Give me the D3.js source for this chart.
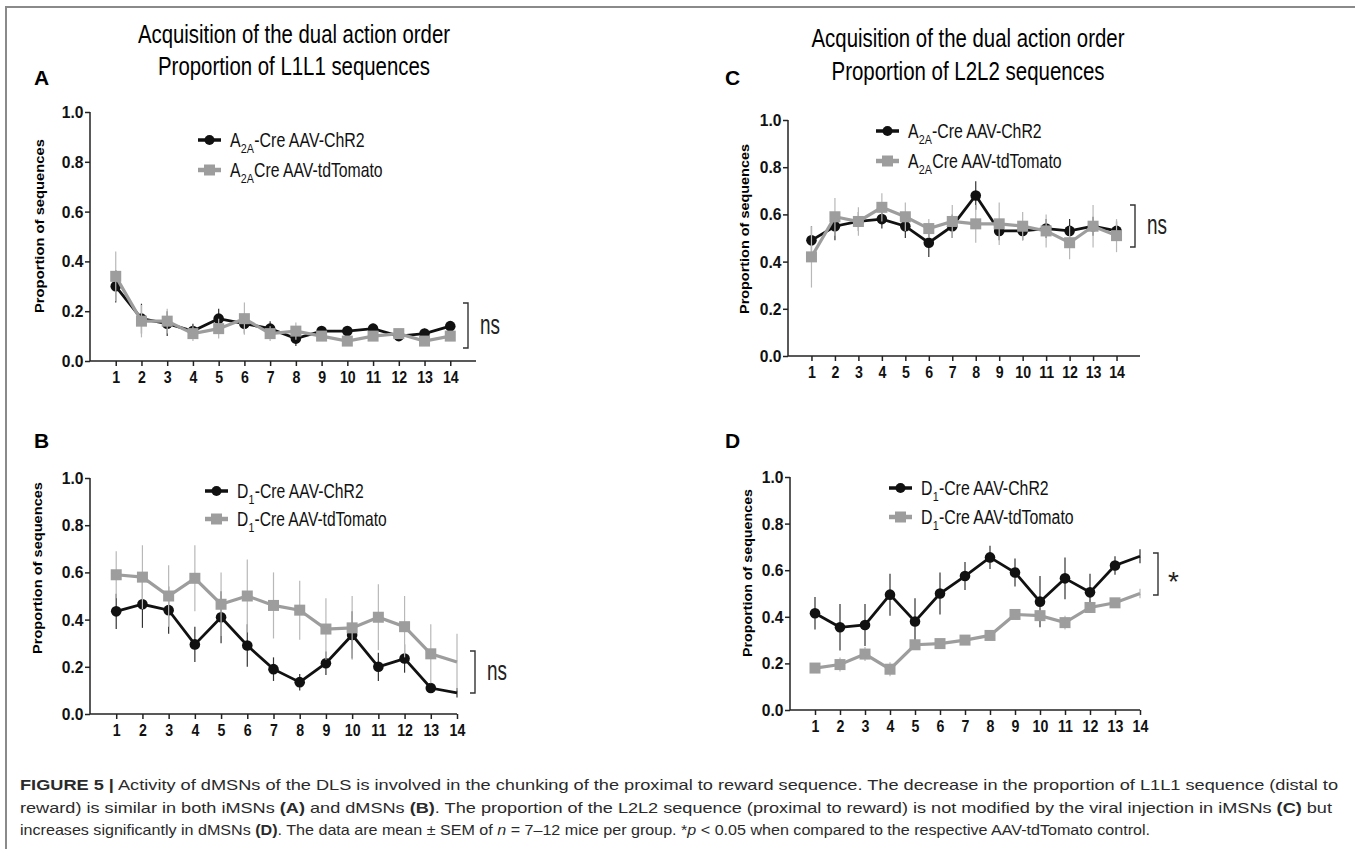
<!DOCTYPE html>
<html>
<head>
<meta charset="utf-8">
<script src="https://cdn.jsdelivr.net/npm/d3@7/dist/d3.min.js"></script>
<style>
  body { margin: 0; background: #fff; }
  text { font-family: 'Liberation Sans', Arial, sans-serif; }
</style>
</head>
<body>
<div id="chart"></div>
<script>

// sessions on the x axis
var days = [1, 2, 3, 4, 5, 6, 7, 8, 9, 10, 11, 12, 13, 14];
var yTicks = [0, 0.2, 0.4, 0.6, 0.8, 1.0];

// A: L1L1, A2A-Cre
var aChR2     = [0.30, 0.17, 0.15, 0.12, 0.17, 0.15, 0.13, 0.09, 0.12, 0.12, 0.13, 0.10, 0.11, 0.14];
var aChR2Sem  = [0.065, 0.06, 0.05, 0.03, 0.04, 0.04, 0.03, 0.03, 0.02, 0.02, 0.02, 0.02, 0.02, 0.02];
var aTdt      = [0.34, 0.16, 0.16, 0.11, 0.13, 0.17, 0.11, 0.12, 0.10, 0.08, 0.10, 0.11, 0.08, 0.10];
var aTdtSem   = [0.10, 0.065, 0.05, 0.03, 0.04, 0.065, 0.03, 0.035, 0.02, 0.02, 0.02, 0.02, 0.02, 0.02];

// B: L1L1, D1-Cre
var bChR2     = [0.435, 0.465, 0.44, 0.295, 0.41, 0.29, 0.19, 0.135, 0.215, 0.335, 0.20, 0.235, 0.11, 0.09];
var bChR2Sem  = [0.075, 0.10, 0.10, 0.075, 0.11, 0.09, 0.05, 0.035, 0.05, 0.10, 0.06, 0.06, 0.02, 0.02];
var bTdt      = [0.59, 0.58, 0.50, 0.575, 0.465, 0.50, 0.46, 0.44, 0.36, 0.365, 0.41, 0.37, 0.255, 0.22];
var bTdtSem   = [0.10, 0.135, 0.13, 0.14, 0.135, 0.155, 0.14, 0.125, 0.13, 0.135, 0.14, 0.13, 0.125, 0.12];

// C: L2L2, A2A-Cre
var cChR2     = [0.49, 0.55, 0.57, 0.58, 0.55, 0.48, 0.55, 0.68, 0.53, 0.53, 0.54, 0.53, 0.55, 0.53];
var cChR2Sem  = [0.06, 0.06, 0.04, 0.04, 0.05, 0.06, 0.05, 0.06, 0.04, 0.04, 0.04, 0.05, 0.04, 0.04];
var cTdt      = [0.42, 0.59, 0.57, 0.63, 0.59, 0.54, 0.57, 0.56, 0.56, 0.55, 0.53, 0.48, 0.55, 0.51];
var cTdtSem   = [0.13, 0.08, 0.06, 0.06, 0.06, 0.04, 0.07, 0.08, 0.09, 0.06, 0.07, 0.07, 0.09, 0.07];

// D: L2L2, D1-Cre
var dChR2     = [0.415, 0.355, 0.365, 0.495, 0.38, 0.50, 0.575, 0.655, 0.59, 0.465, 0.565, 0.505, 0.62, 0.66];
var dChR2Sem  = [0.07, 0.10, 0.09, 0.09, 0.10, 0.09, 0.06, 0.05, 0.06, 0.11, 0.09, 0.08, 0.04, 0.03];
var dTdt      = [0.18, 0.195, 0.24, 0.175, 0.28, 0.285, 0.30, 0.32, 0.41, 0.405, 0.375, 0.44, 0.46, 0.50];
var dTdtSem   = [0.02, 0.03, 0.03, 0.03, 0.02, 0.02, 0.02, 0.02, 0.02, 0.02, 0.03, 0.02, 0.02, 0.02];

var titleLine1 = 'Acquisition of the dual action order';
var yLabel = 'Proportion of  sequences';

var BLACK = '#111', GRAY = '#9d9d9d';

var svg = d3.select('#chart').append('svg')
    .attr('width', 1355)
    .attr('height', 849);

// frame around the figure
svg.append('path')
    .attr('d', 'M6,849 V7 H1355')
    .style('fill', 'none')
    .style('stroke', '#8a8a8a')
    .style('stroke-width', 2);

var panels = [
    { letter: 'A', lx: 34, ly: 85, x0: 90, x1: 476, xMax: 15, y0: 361, y1: 112,
      title: ['Proportion of L1L1 sequences'], tx: 294, ty: [43, 75], tw: [312, 272],
      labX: 44, labY: 226, labLen: 174,
      leg: { x: 198, y: [140, 170], len: [135, 153] }, sub: ['2A', '2A'], pre: 'A', names: ['-Cre AAV-ChR2', 'Cre AAV-tdTomato'],
      sig: 'ns', bx: 468, by: [303, 348], sigSize: 28, sigLen: 20,
      black: aChR2, blackSem: aChR2Sem, gray: aTdt, graySem: aTdtSem },
    { letter: 'B', lx: 34, ly: 448, x0: 90, x1: 457, xMax: 14, y0: 714, y1: 478,
      labX: 42, labY: 568, labLen: 172,
      leg: { x: 205, y: [491, 519], len: [127, 150] }, sub: ['1', '1'], pre: 'D', names: ['-Cre AAV-ChR2', '-Cre AAV-tdTomato'],
      sig: 'ns', bx: 475, by: [651, 693], sigSize: 28, sigLen: 20,
      black: bChR2, blackSem: bChR2Sem, gray: bTdt, graySem: bTdtSem },
    { letter: 'C', lx: 725, ly: 85, x0: 788, x1: 1140, xMax: 15, y0: 356, y1: 120,
      title: ['Proportion of L2L2 sequences'], tx: 968, ty: [47, 80], tw: [313, 273],
      labX: 749, labY: 229, labLen: 170,
      leg: { x: 876, y: [131, 161], len: [134, 154] }, sub: ['2A', '2A'], pre: 'A', names: ['-Cre AAV-ChR2', 'Cre AAV-tdTomato'],
      sig: 'ns', bx: 1135, by: [205, 247], sigSize: 28, sigLen: 20,
      black: cChR2, blackSem: cChR2Sem, gray: cTdt, graySem: cTdtSem },
    { letter: 'D', lx: 725, ly: 448, x0: 790, x1: 1140, xMax: 14, y0: 710, y1: 477,
      labX: 752, labY: 573, labLen: 168,
      leg: { x: 889, y: [488, 517], len: [128, 153] }, sub: ['1', '1'], pre: 'D', names: ['-Cre AAV-ChR2', '-Cre AAV-tdTomato'],
      sig: '*', bx: 1158, by: [553, 595], sigSize: 28, sigLen: 0,
      black: dChR2, blackSem: dChR2Sem, gray: dTdt, graySem: dTdtSem }
];

panels.forEach(drawPanel);

function drawPanel(p) {
    var x = d3.scaleLinear().domain([0, p.xMax]).range([p.x0, p.x1]);
    var y = d3.scaleLinear().domain([0, 1]).range([p.y0, p.y1]);

    // panel letter
    svg.append('text')
        .attr('x', p.lx).attr('y', p.ly)
        .style('font-size', '21px').style('font-weight', 'bold')
        .text(p.letter);

    // title (top panels only)
    if (p.title) {
        [titleLine1, p.title[0]].forEach((t, i) => {
            svg.append('text')
                .attr('x', p.tx).attr('y', p.ty[i])
                .attr('text-anchor', 'middle')
                .attr('textLength', p.tw[i])
                .attr('lengthAdjust', 'spacingAndGlyphs')
                .style('font-size', '26px')
                .text(t);
        });
    }

    // y axis
    svg.append('g')
        .attr('transform', `translate(${p.x0},0)`)
        .call(d3.axisLeft(y).tickValues(yTicks).tickFormat(d3.format('.1f')).tickSize(5).tickPadding(2))
        .call(g => g.select('.domain').attr('d', `M0,${p.y0}V${p.y1}`))
        .call(g => g.selectAll('path, line').style('stroke', '#222').style('stroke-width', 1.5))
        .call(g => g.selectAll('text').style('font-size', '17px').style('font-weight', 'bold')
            .style('font-family', "'Liberation Sans', Arial, sans-serif").attr('fill', '#111')
            .attr('transform', 'scale(0.92,1)'));

    // x axis
    svg.append('g')
        .attr('transform', `translate(0,${p.y0})`)
        .call(d3.axisBottom(x).tickValues(days).tickSize(5).tickPadding(5))
        .call(g => g.select('.domain').attr('d', `M${p.x0},0H${p.x1}`))
        .call(g => g.selectAll('path, line').style('stroke', '#222').style('stroke-width', 1.5))
        .call(g => g.selectAll('text').style('font-size', '16.5px').style('font-weight', 'bold')
            .style('font-family', "'Liberation Sans', Arial, sans-serif").attr('fill', '#111')
            .attr('transform', 'scale(0.86,1)'));

    // y axis label
    svg.append('text')
        .attr('transform', `translate(${p.labX},${p.labY}) rotate(-90)`)
        .attr('text-anchor', 'middle')
        .attr('textLength', p.labLen)
        .attr('lengthAdjust', 'spacingAndGlyphs')
        .style('font-size', '13.5px').style('font-weight', 'bold')
        .text(yLabel);

    var series = [
        { v: p.black, e: p.blackSem, color: BLACK, err: '#333', shape: 'circle', width: 2.8 },
        { v: p.gray, e: p.graySem, color: GRAY, err: '#b8b8b8', shape: 'square', width: 3.2 }
    ];

    var line = d3.line()
        .x(d => x(d.day))
        .y(d => y(d.v));

    series.forEach(s => {
        var pts = days.map((d, i) => ({ day: d, v: s.v[i], e: s.e[i] }));
        var g = svg.append('g');

        g.selectAll('.err')
            .data(pts)
            .enter().append('line')
            .attr('x1', d => x(d.day)).attr('x2', d => x(d.day))
            .attr('y1', d => y(d.v - d.e)).attr('y2', d => y(d.v + d.e))
            .style('stroke', s.err)
            .style('stroke-width', 1.2);

        g.append('path')
            .datum(pts)
            .attr('d', line)
            .style('fill', 'none')
            .style('stroke', s.color)
            .style('stroke-width', s.width);

        // markers at the edge of the axis are clipped away
        var inner = pts.filter(d => d.day < p.xMax);
        if (s.shape == 'circle') {
            g.selectAll('.dot')
                .data(inner)
                .enter().append('circle')
                .attr('cx', d => x(d.day))
                .attr('cy', d => y(d.v))
                .attr('r', 5.3)
                .style('fill', s.color);
        } else {
            g.selectAll('.sq')
                .data(inner)
                .enter().append('rect')
                .attr('x', d => x(d.day) - 5.5)
                .attr('y', d => y(d.v) - 5.5)
                .attr('width', 11).attr('height', 11)
                .style('fill', s.color);
        }
    });

    // legend
    series.forEach((s, i) => {
        var ly = p.leg.y[i];
        svg.append('line')
            .attr('x1', p.leg.x).attr('x2', p.leg.x + 23)
            .attr('y1', ly).attr('y2', ly)
            .style('stroke', s.color)
            .style('stroke-width', s.shape == 'circle' ? 3.5 : 4.5);
        if (s.shape == 'circle') {
            svg.append('circle').attr('cx', p.leg.x + 11.5).attr('cy', ly).attr('r', 5).style('fill', s.color);
        } else {
            svg.append('rect').attr('x', p.leg.x + 6).attr('y', ly - 5.5).attr('width', 11).attr('height', 11).style('fill', s.color);
        }
        // label in three pieces (subscript in the middle), squeezed to the reference width
        var lg = svg.append('g');
        var parts = [[p.pre, 20, 0], [p.sub[i], 13.5, 6], [p.names[i], 20, 0]];
        var cx = 0;
        parts.forEach(pt => {
            var tt = lg.append('text')
                .attr('x', cx).attr('y', pt[2])
                .style('font-size', pt[1] + 'px')
                .attr('fill', '#111')
                .text(pt[0]);
            cx += tt.node().getComputedTextLength() + 0.3;
        });
        lg.attr('transform', `translate(${p.leg.x + 32},${ly + 7}) scale(${p.leg.len[i] / cx},1)`);
    });

    // significance bracket
    svg.append('path')
        .attr('d', `M${p.bx - 5},${p.by[0]}H${p.bx}V${p.by[1]}H${p.bx - 5}`)
        .style('fill', 'none')
        .style('stroke', '#333')
        .style('stroke-width', 1.4);

    var st = svg.append('text')
        .attr('x', p.bx + (p.sig == '*' ? 10 : 12))
        .attr('y', (p.by[0] + p.by[1]) / 2 + (p.sig == '*' ? 17 : 8))
        .style('font-size', p.sigSize + 'px')
        .attr('fill', '#222')
        .text(p.sig);
    if (p.sigLen) st.attr('textLength', p.sigLen).attr('lengthAdjust', 'spacingAndGlyphs');
}

// caption
var caption = [
    [['FIGURE 5 |', 'b'], [' Activity of dMSNs of the DLS is involved in the chunking of the proximal to reward sequence. The decrease in the proportion of L1L1 sequence (distal to', '']],
    [['reward) is similar in both iMSNs ', ''], ['(A)', 'b'], [' and dMSNs ', ''], ['(B)', 'b'], ['. The proportion of the L2L2 sequence (proximal to reward) is not modified by the viral injection in iMSNs ', ''], ['(C)', 'b'], [' but', '']],
    [['increases significantly in dMSNs ', ''], ['(D)', 'b'], ['. The data are mean \u00b1 SEM of ', ''], ['n', 'i'], [' = 7\u201312 mice per group. *', ''], ['p', 'i'], [' < 0.05 when compared to the respective AAV-tdTomato control.', '']]
];
var capLen = [1318, 1312, 1130];

caption.forEach((runs, i) => {
    var t = svg.append('text')
        .attr('x', 20)
        .attr('y', 790 + i * 22.5)
        .attr('textLength', capLen[i])
        .attr('lengthAdjust', 'spacingAndGlyphs')
        .style('font-size', '15px')
        .attr('fill', '#2a2a2a');
    runs.forEach(r => {
        t.append('tspan')
            .style('font-weight', r[1] == 'b' ? 'bold' : 'normal')
            .style('font-style', r[1] == 'i' ? 'italic' : 'normal')
            .text(r[0]);
    });
});

</script>
</body>
</html>
